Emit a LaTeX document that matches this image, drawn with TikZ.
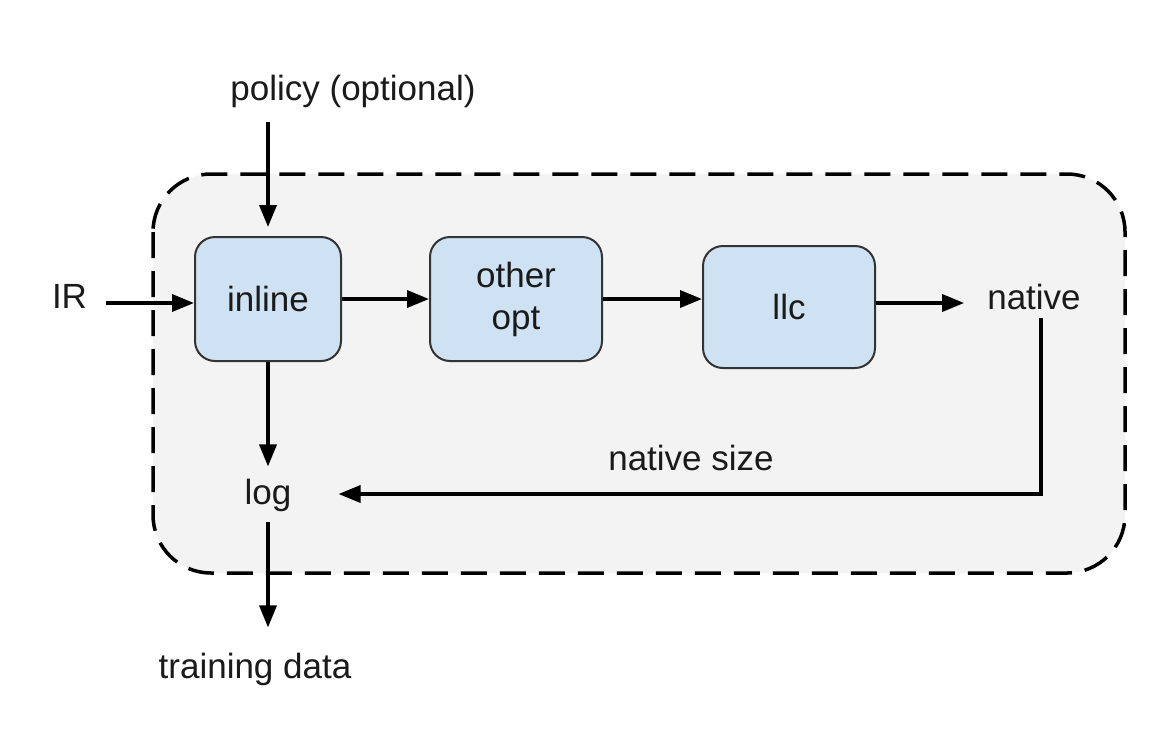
\documentclass[tikz,border=0pt]{standalone}
\usepackage{fontspec}
\setmainfont{Liberation Sans}
\usetikzlibrary{arrows.meta}
\definecolor{boxfill}{HTML}{CFE2F3}
\definecolor{bgfill}{HTML}{F3F3F3}
\definecolor{boxline}{HTML}{333333}
\definecolor{txt}{HTML}{1A1A1A}
\begin{document}
\begin{tikzpicture}[x=1pt,y=-1pt,
  every node/.style={font=\fontsize{35}{42}\selectfont, text=txt},
  blk/.style={draw=boxline, line width=2pt, fill=boxfill, rounded corners=20pt, align=center, inner sep=0pt},
  lbl/.style={inner sep=0pt, anchor=base},
  arr/.style={line width=3.5pt, -{Triangle[length=22pt,width=17pt]}},
  plain/.style={line width=3.5pt},
  dashbox/.style={draw=black, line width=3.5pt, dash pattern=on 26pt off 13pt, fill=bgfill, rounded corners=58pt}]
\useasboundingbox (0,0) rectangle (1170,732);
\fill[white] (0,0) rectangle (1170,732);
\draw[dashbox] (153,174) rectangle (1125,573);
% blocks
\node[blk, minimum width=146pt, minimum height=124pt] (inline) at (268,299) {inline};
\node[blk, minimum width=172pt, minimum height=124pt] (other) at (516,299) {other\\opt};
\node[blk, minimum width=172pt, minimum height=122pt] (llc) at (789,307) {llc};
% labels
\node[lbl] (policy) at (353,100) {policy (optional)};
\node[lbl] (IR) at (69.5,308) {IR};
\node[lbl] (native) at (1034,309) {native};
\node[lbl] (log) at (268,504) {log};
\node[lbl] (training) at (255,678) {training data};
\node[lbl] (nsize) at (691,470) {native size};
\coordinate (nd) at (1041,494);
% connectors
\draw[arr, shorten <=15pt, shorten >=9pt] (policy.south -| inline.north) -- (inline.north);
\draw[arr] ([shift={(19pt,5pt)}]IR.base east) -- ([yshift=-4pt]inline.west);
\draw[arr] (inline.east) -- (other.west);
\draw[arr] (other.east) -- (other.east -| llc.west);
\draw[arr, shorten >=23pt] ([yshift=4pt]llc.east) -- ([yshift=4pt]llc.east -| native.west);
\draw[arr, shorten >=12pt] (inline.south) -- (log.north);
\draw[arr, shorten <=11pt, shorten >=25pt] (log.south) -- (log.south |- training.north);
\draw[arr, shorten >=47pt] (nd |- native.south) ++(0,8) -- (nd) -- (nd -| log.east);
\end{tikzpicture}
\end{document}
